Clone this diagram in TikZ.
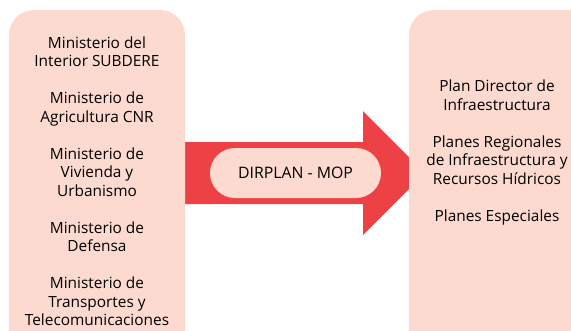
\documentclass[tikz,border=0pt]{standalone}
\usepackage{fontspec}
\setmainfont{Open Sans}
\usetikzlibrary{positioning}
\definecolor{fddacf}{HTML}{FDDACF}
\definecolor{ee4146}{HTML}{EE4146}

\begin{document}
\begin{tikzpicture}[line cap=round,line join=round,x=1pt,y=-1pt,
  caja/.style={fill=fddacf,rounded corners=25pt},
  texto/.style={align=center,text=black,font=\fontsize{15.4}{18.5}\selectfont}]
\useasboundingbox (0,0) rectangle (571,330);
\clip (0,0) rectangle (571,330);

% flecha
\fill [color=ee4146] (170,142) -- (363,142) -- (363,111) -- (425,173) -- (363,235) -- (363,204) -- (170,204) -- cycle;

% cajas
\fill [caja] (9,10) rectangle (185,360);
\fill [caja] (409,10) rectangle (600,360);

\node[texto] (ministerios) at (97,181) {Ministerio del\\Interior SUBDERE\\[18.5pt]
  Ministerio de\\Agricultura CNR\\[18.5pt]
  Ministerio de\\Vivienda y\\Urbanismo\\[18.5pt]
  Ministerio de\\Defensa\\[18.5pt]
  Ministerio de\\Transportes y\\Telecomunicaciones};
\node[texto] (planes) at (497,152.5) {Plan Director de\\Infraestructura\\[18.5pt]
  Planes Regionales\\de Infraestructura y\\Recursos H\'idricos\\[18.5pt]
  Planes Especiales};

\node[texto,font=\fontsize{15.8}{18.5}\selectfont,fill=fddacf,rounded corners=25pt,minimum width=171pt,minimum height=50pt] (dirplan) at (295.5,173) {DIRPLAN - MOP};

\end{tikzpicture}
\end{document}
